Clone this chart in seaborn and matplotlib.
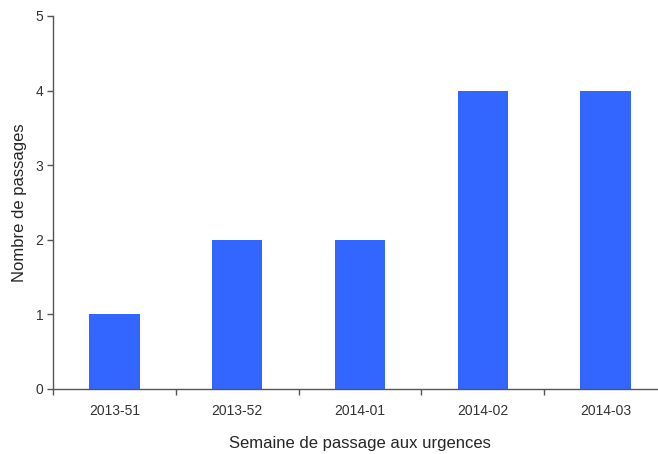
import pandas as pd
import seaborn as sns
import matplotlib.pyplot as plt

# Data
semaines = ['2013-51', '2013-52', '2014-01', '2014-02', '2014-03']
passages = [1, 2, 2, 4, 4]

sns.set_style('white')
plt.rcParams['font.family'] = ['Liberation Sans', 'DejaVu Sans']

fig = plt.figure(figsize=(6.58, 4.54), dpi=100)
ax = fig.add_axes([53/658, 1-389/454, 614/658, 373/454])

df = pd.DataFrame({'semaine': semaines, 'passages': passages})
sns.barplot(data=df, x='semaine', y='passages', color='#3366FF', saturation=1,
            width=0.41, linewidth=0, ax=ax)

ax.set_xlim(-0.5, len(semaines)-0.5)
ax.set_ylim(0, 5)
ax.set_yticks(range(0, 6))

# ticks between the categories
ax.set_xticks([i-0.5 for i in range(len(semaines))], minor=False)
ax.set_xticklabels([])
ax.set_xticks(range(len(semaines)), minor=True)
ax.set_xticklabels(semaines, minor=True)
ax.tick_params(axis='x', which='major', direction='out', length=4, width=1, color='#555555', bottom=True)
ax.tick_params(axis='x', which='minor', length=0, pad=11, labelsize=10, labelcolor='#333333')
ax.tick_params(axis='y', direction='out', length=4, width=1, color='#555555', left=True,
               labelsize=10, labelcolor='#333333', pad=3)

sns.despine(ax=ax)
for s in ['left', 'bottom']:
    ax.spines[s].set_color('#555555')
    ax.spines[s].set_linewidth(1)

ax.set_xlabel('Semaine de passage aux urgences', fontsize=12, labelpad=13)
ax.set_ylabel('Nombre de passages', fontsize=12, labelpad=6)

plt.savefig('out.png', dpi=100)
